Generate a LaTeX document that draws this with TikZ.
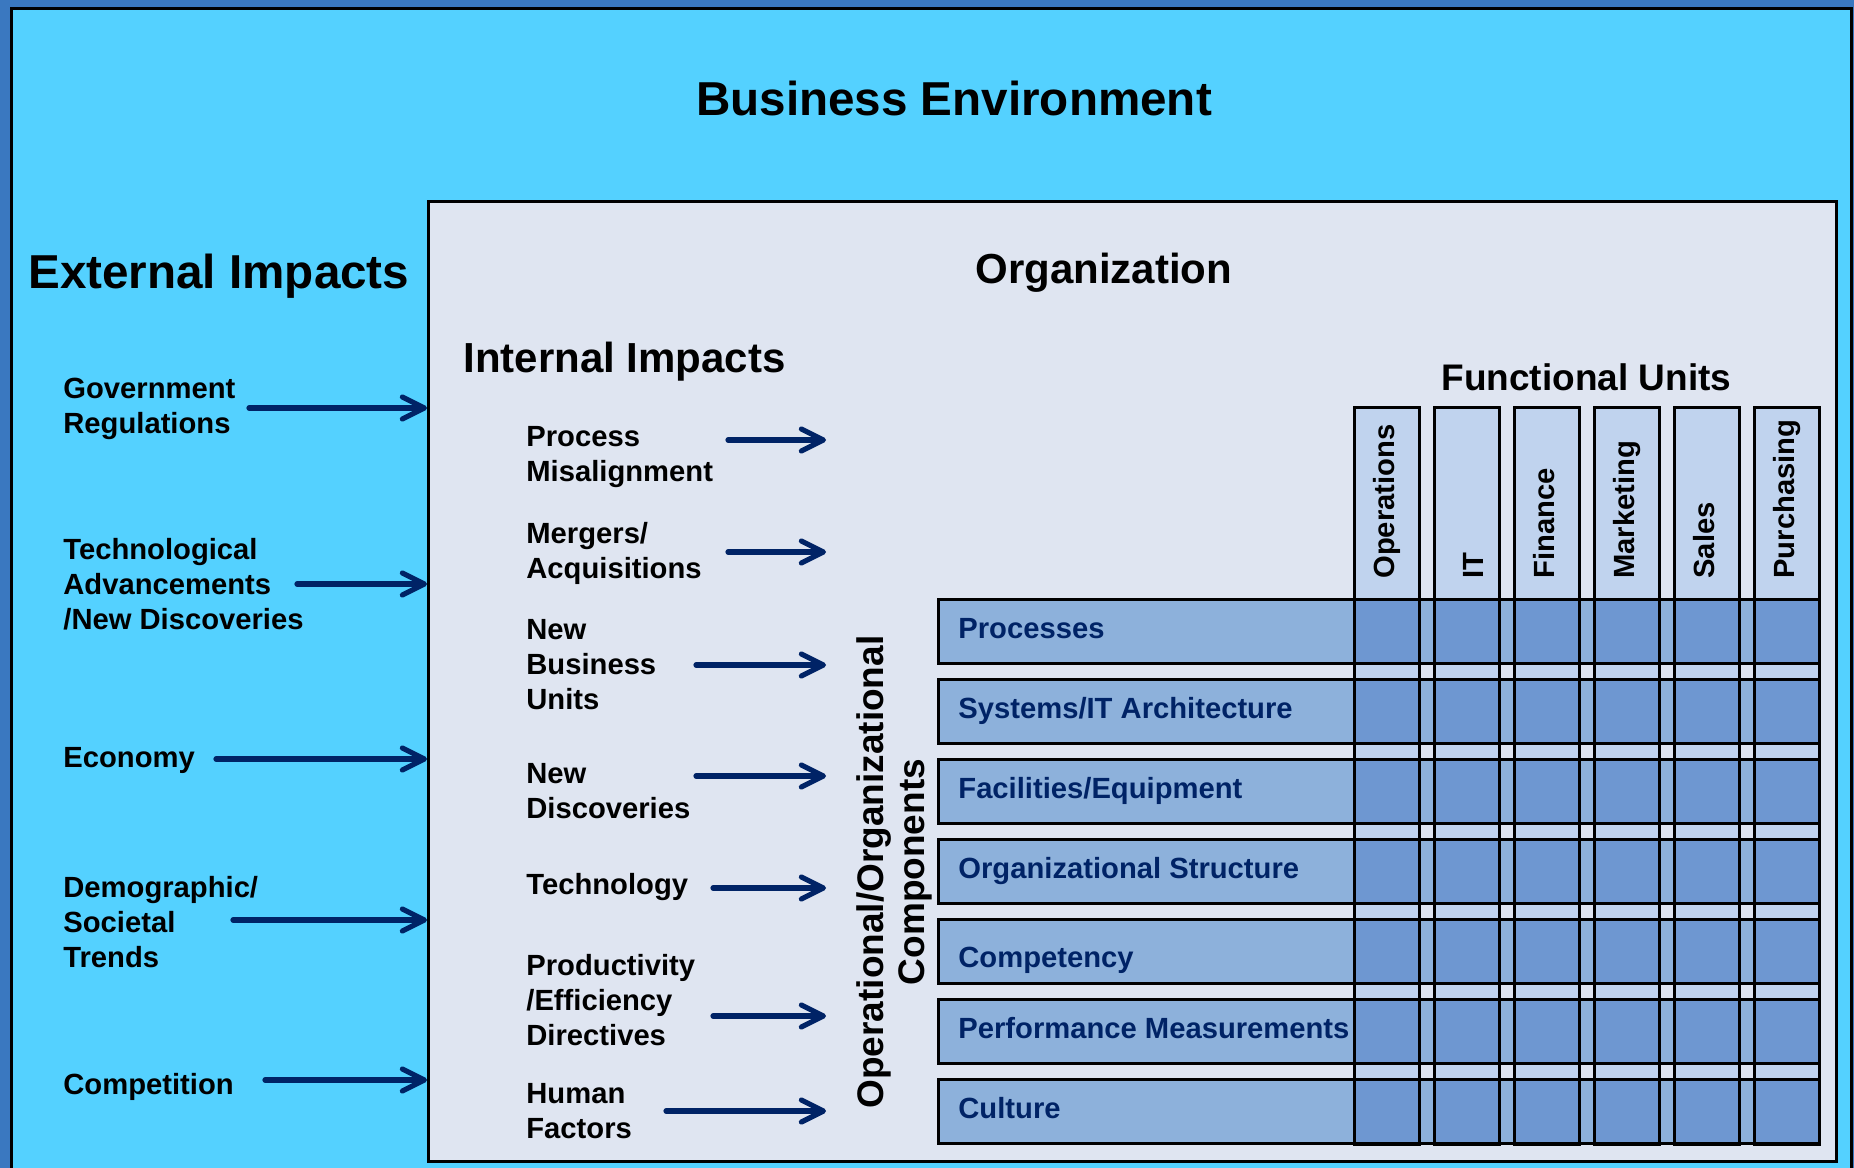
\documentclass[tikz,border=0pt]{standalone}
\usepackage{fontspec}
\setmainfont{Liberation Sans}
\usetikzlibrary{arrows.meta}
\definecolor{framebg}{RGB}{58,120,192}
\definecolor{cyanbg}{RGB}{84,209,255}
\definecolor{orgbg}{RGB}{223,229,241}
\definecolor{rowblue}{RGB}{141,177,219}
\definecolor{collight}{RGB}{192,211,238}
\definecolor{coldark}{RGB}{110,151,209}
\definecolor{navy}{RGB}{0,35,102}
\tikzset{
  lbl/.style={font=\fontsize{14.6}{17.5}\selectfont\bfseries, align=left, inner sep=0pt, anchor=base west},
  rowtxt/.style={font=\fontsize{14.6}{17.5}\selectfont\bfseries, text=navy, inner sep=0pt, anchor=base west},
  collbl/.style={font=\fontsize{14.6}{17.5}\selectfont\bfseries, inner sep=0pt, anchor=base west, rotate=90},
  bigttl/.style={font=\fontsize{23.8}{28}\selectfont\bfseries, inner sep=0pt},
  midttl/.style={font=\fontsize{21}{25}\selectfont\bfseries, inner sep=0pt, anchor=base west},
  smttl/.style={font=\fontsize{18.5}{20.5}\selectfont\bfseries, inner sep=0pt},
  arr/.style={draw=navy, line width=2.6pt, line cap=round, -{Straight Barb[round, length=11pt, width=11pt]}},
  orgbox/.style={draw=black, fill=orgbg, line width=1.5pt, inner sep=0pt},
  gridline/.style={draw=black, line width=1.5pt}
}
\begin{document}
\begin{tikzpicture}[x=0.5pt,y=-0.5pt]
\useasboundingbox (0,0) rectangle (1854,1168);
\fill[framebg] (0,0) rectangle (1854,1168);
\draw[fill=cyanbg, line width=1.5pt] (11,8) rectangle (1851,1185);
\node[orgbox, anchor=north west, minimum width=704pt, minimum height=480pt] (org) at (427,200) {};

% titles
\node[bigttl, anchor=base] (title) at (954,115) {Business Environment};
\node[bigttl, anchor=base west] (ext) at (28,288) {External Impacts};
\node[midttl] (orgt) at (975,283) {Organization};
\node[midttl] (intt) at (463,372) {Internal Impacts};
\node[smttl, anchor=base west] (fut) at (1441,390) {Functional Units};

% external impacts (anchor = baseline of last line)
\node[lbl] (gov) at (63,433) {Government\\Regulations};
\node[lbl] (tech) at (63,629) {Technological\\Advancements\\/New Discoveries};
\node[lbl] (econ) at (63,767) {Economy};
\node[lbl] (demo) at (63,967) {Demographic/\\Societal\\Trends};
\node[lbl] (comp) at (63,1094) {Competition};

\coordinate (govs) at (249,408);
\coordinate (techs) at (297,584);
\coordinate (econs) at (216,759);
\coordinate (demos) at (233,920);
\coordinate (comps) at (265,1080);
\foreach \s in {govs,techs,econs,demos,comps}
  \draw[arr] (\s) -- (\s -| org.west);

% internal impacts (anchor = baseline of last line)
\node[lbl] (pm) at (526,481) {Process\\Misalignment};
\node[lbl] (ma) at (526,578) {Mergers/\\Acquisitions};
\node[lbl] (nbu) at (526,709) {New\\Business\\Units};
\node[lbl] (nd) at (526,818) {New\\Discoveries};
\node[lbl] (tc) at (526,894) {Technology};
\node[lbl] (pe) at (526,1045) {Productivity\\/Efficiency\\Directives};
\node[lbl] (hf) at (526,1138) {Human\\Factors};

\coordinate (pms) at (728,440);  \coordinate (pme) at (826,440);
\coordinate (mas) at (728,552);  \coordinate (mae) at (826,552);
\coordinate (nbus) at (696,665); \coordinate (nbue) at (826,665);
\coordinate (nds) at (696,776);  \coordinate (nde) at (826,776);
\coordinate (tcs) at (713,888);  \coordinate (tce) at (826,888);
\coordinate (pes) at (713,1016); \coordinate (pee) at (826,1016);
\coordinate (hfs) at (666,1111); \coordinate (hfe) at (826,1111);
\foreach \s/\e in {pms/pme,mas/mae,nbus/nbue,nds/nde,tcs/tce,pes/pee,hfs/hfe}
  \draw[arr] (\s) -- (\e);

% vertical label
\node[smttl, rotate=90, align=center] (oc) at (894,872) {Operational/Organizational\\Components};

% rows and columns
\foreach \i in {0,...,6}
  \fill[rowblue] (938,{599+80*\i}) rectangle (1819,{663+80*\i});
\foreach \j in {0,...,5}
  \fill[collight] ({1354+80*\j},407) rectangle ({1419+80*\j},1144);
\foreach \i in {0,...,6}
  \foreach \j in {0,...,5}
    \fill[coldark] ({1354+80*\j},{599+80*\i}) rectangle ({1419+80*\j},{663+80*\i});
\foreach \i in {0,...,6}
  \draw[gridline] (938,{599+80*\i}) rectangle (1819,{663+80*\i});
\foreach \j in {0,...,5}
  \draw[gridline] ({1354+80*\j},407) rectangle ({1419+80*\j},1144);

\node[rowtxt] (r1) at (958,638) {Processes};
\node[rowtxt] (r2) at (958,718) {Systems/IT Architecture};
\node[rowtxt] (r3) at (958,798) {Facilities/Equipment};
\node[rowtxt] (r4) at (958,878) {Organizational Structure};
\node[rowtxt] (r5) at (958,967) {Competency};
\node[rowtxt] (r6) at (958,1038) {Performance Measurements};
\node[rowtxt] (r7) at (958,1118) {Culture};

\node[collbl] (c1) at (1394,579) {Operations};
\node[collbl] (c2) at (1483,579) {IT};
\node[collbl] (c3) at (1554,579) {Finance};
\node[collbl] (c4) at (1634,579) {Marketing};
\node[collbl] (c5) at (1714,579) {Sales};
\node[collbl] (c6) at (1794,579) {Purchasing};
\end{tikzpicture}
\end{document}
